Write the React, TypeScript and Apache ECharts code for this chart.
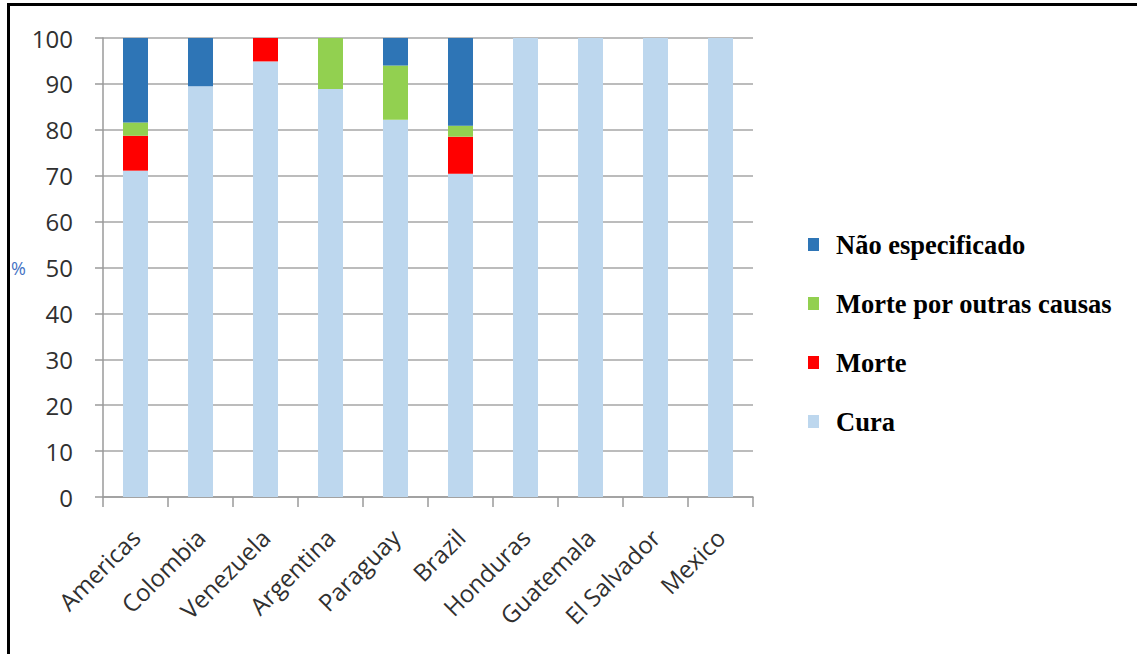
import React, { useEffect, useRef } from "react";
import * as echarts from "echarts";

const categories = [
  "Americas",
  "Colombia",
  "Venezuela",
  "Argentina",
  "Paraguay",
  "Brazil",
  "Honduras",
  "Guatemala",
  "El Salvador",
  "Mexico",
];

const cura = [71.1, 89.5, 94.9, 88.9, 82.2, 70.4, 100, 100, 100, 100];
const morte = [7.6, 0, 5.1, 0, 0, 8.1, 0, 0, 0, 0];
const morteOutras = [2.9, 0, 0, 11.1, 11.8, 2.4, 0, 0, 0, 0];
const naoEspecificado = [18.4, 10.5, 0, 0, 6.0, 19.1, 0, 0, 0, 0];

const yTicks = [0, 10, 20, 30, 40, 50, 60, 70, 80, 90, 100];

const seriesNames = {
  cura: "Cura",
  morte: "Morte",
  outras: "Morte por outras causas",
  nao: "Não especificado",
};

const colors = {
  cura: "#BDD7EE",
  morte: "#FF0000",
  outras: "#92D050",
  nao: "#2E75B6",
};

export default function App() {
  const ref = useRef<HTMLDivElement>(null);

  useEffect(() => {
    if (!ref.current) return;
    const chart = echarts.init(ref.current, null, { renderer: "svg" });

    const barSeries = (name: string, data: number[], color: string) => ({
      name,
      type: "bar",
      stack: "total",
      data,
      barWidth: 25,
      itemStyle: { color },
      emphasis: { disabled: true },
    });

    chart.setOption({
      animation: false,
      backgroundColor: "#ffffff",
      grid: { left: 103, right: 384, top: 38, bottom: 157 },
      legend: {
        orient: "vertical",
        left: 803,
        top: 226,
        itemWidth: 11,
        itemHeight: 13,
        itemGap: 32,
        icon: "rect",
        data: [seriesNames.nao, seriesNames.outras, seriesNames.morte, seriesNames.cura],
        textStyle: {
          fontFamily: "Liberation Serif",
          fontWeight: "bold",
          fontSize: 26.5,
          color: "#000000",
          padding: [0, 0, 0, 12],
        },
      },
      xAxis: {
        type: "category",
        data: categories,
        boundaryGap: true,
        axisLine: { lineStyle: { color: "#9a9a9a", width: 1.5 } },
        axisTick: { show: true, length: 10, alignWithLabel: false, lineStyle: { color: "#9a9a9a", width: 1.5 } },
        axisLabel: {
          rotate: 45,
          interval: 0,
          margin: 36,
          fontFamily: "Open Sans",
          fontSize: 24,
          color: "#303030",
        },
      },
      yAxis: {
        type: "value",
        min: yTicks[0],
        max: yTicks[yTicks.length - 1],
        interval: 10,
        name: "%",
        nameLocation: "middle",
        nameRotate: 0,
        nameGap: 75,
        nameTextStyle: { color: "#4472C4", fontSize: 18, fontFamily: "Open Sans" },
        axisLine: { show: true, lineStyle: { color: "#9a9a9a", width: 1.5 } },
        axisTick: { show: true, length: 8, lineStyle: { color: "#9a9a9a", width: 1.5 } },
        splitLine: { show: true, lineStyle: { color: "#a6a6a6", width: 1.5 } },
        axisLabel: {
          margin: 30,
          fontFamily: "Open Sans",
          fontSize: 24,
          color: "#303030",
        },
      },
      series: [
        barSeries(seriesNames.cura, cura, colors.cura),
        barSeries(seriesNames.morte, morte, colors.morte),
        barSeries(seriesNames.outras, morteOutras, colors.outras),
        barSeries(seriesNames.nao, naoEspecificado, colors.nao),
      ],
      graphic: [
        {
          type: "line",
          shape: { x1: 8.5, y1: 3, x2: 8.5, y2: 654 },
          style: { stroke: "#000000", lineWidth: 3 },
        },
        {
          type: "line",
          shape: { x1: 7, y1: 4.5, x2: 1137, y2: 4.5 },
          style: { stroke: "#000000", lineWidth: 3 },
        },
      ],
    });

    return () => chart.dispose();
  }, []);

  return (
    <div
      ref={ref}
      style={{ position: "fixed", left: 0, top: 0, width: 1137, height: 654 }}
    />
  );
}
